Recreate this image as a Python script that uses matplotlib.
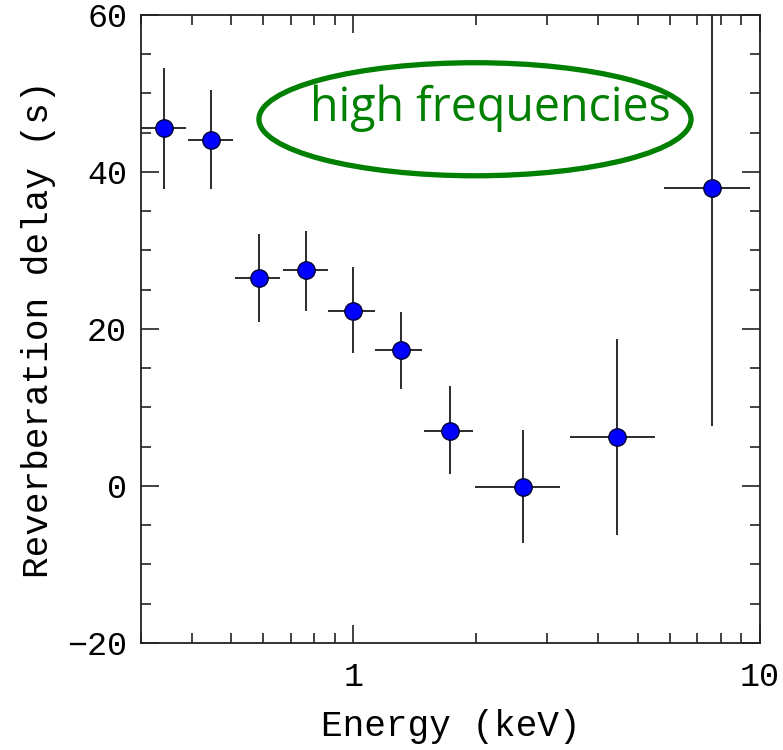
import matplotlib
matplotlib.use("Agg")
import matplotlib.pyplot as plt
from matplotlib.patches import Ellipse
from matplotlib.ticker import LogLocator, FixedLocator, NullFormatter, FixedFormatter
import numpy as np

# energy bins (keV)
energy = [0.342, 0.447, 0.587, 0.764, 1.0, 1.306, 1.725, 2.606, 4.46, 7.62]
energy_lo = [0.30, 0.392, 0.512, 0.67, 0.868, 1.131, 1.494, 1.99, 3.40, 5.81]
energy_hi = [0.387, 0.506, 0.66, 0.864, 1.127, 1.474, 1.968, 3.23, 5.53, 9.44]

# reverberation delay (s)
delay = [45.6, 44.1, 26.5, 27.5, 22.3, 17.3, 7.0, -0.1, 6.3, 37.9]
delay_lo = [37.8, 37.8, 20.9, 22.3, 17.0, 12.4, 1.5, -7.3, -6.2, 7.6]
delay_hi = [53.3, 50.4, 32.1, 32.5, 27.9, 22.2, 12.7, 7.1, 18.7, 68.2]

x = np.array(energy)
y = np.array(delay)
xerr = [x - np.array(energy_lo), np.array(energy_hi) - x]
yerr = [y - np.array(delay_lo), np.array(delay_hi) - y]

mono = "Liberation Mono"

fig = plt.figure(figsize=(7.83, 7.5), dpi=100)
ax = fig.add_axes([0.180, 0.1427, 0.7906, 0.8373])

ax.errorbar(x, y, xerr=xerr, yerr=yerr, fmt="o", color="#1a1a1a", elinewidth=1.3,
            capsize=0, markersize=12.5, markerfacecolor="#0000ff",
            markeredgecolor="#000033", markeredgewidth=1.0, zorder=3)

ax.set_xscale("log")
ax.set_xlim(0.3, 10)
ax.set_ylim(-20, 60)

ax.xaxis.set_major_locator(FixedLocator([1, 10]))
ax.xaxis.set_major_formatter(FixedFormatter(["1", "10"]))
ax.xaxis.set_minor_locator(LogLocator(base=10, subs=np.arange(2, 10), numticks=20))
ax.xaxis.set_minor_formatter(NullFormatter())
ax.set_yticks([-20, 0, 20, 40, 60])
ax.set_yticks(np.arange(-20, 61, 5), minor=True)

ax.tick_params(which="both", direction="in", top=True, right=True, width=1.2, color="#222222")
ax.tick_params(which="major", length=13, pad=10, labelsize=24)
ax.tick_params(axis="x", which="major", pad=14)
ax.tick_params(which="minor", length=7)
for lab in ax.get_xticklabels() + ax.get_yticklabels():
    lab.set_fontfamily(mono)
for s in ax.spines.values():
    s.set_linewidth(1.3)
    s.set_color("#222222")

ax.set_xlabel("Energy (keV)", fontfamily=mono, fontsize=26, labelpad=11)
ax.set_ylabel("Reverberation delay (s)", fontfamily=mono, fontsize=26, labelpad=8)

ell = Ellipse((0.5396, 0.834), 0.698, 0.180, transform=ax.transAxes,
              fill=False, edgecolor="#008000", linewidth=3.8, zorder=4)
ax.add_patch(ell)
ax.text(0.564, 0.831, "high frequencies", transform=ax.transAxes, color="#008000",
        fontsize=33.5, fontfamily="Open Sans", ha="center", va="baseline", zorder=5)

fig.savefig("out.png", dpi=100)
